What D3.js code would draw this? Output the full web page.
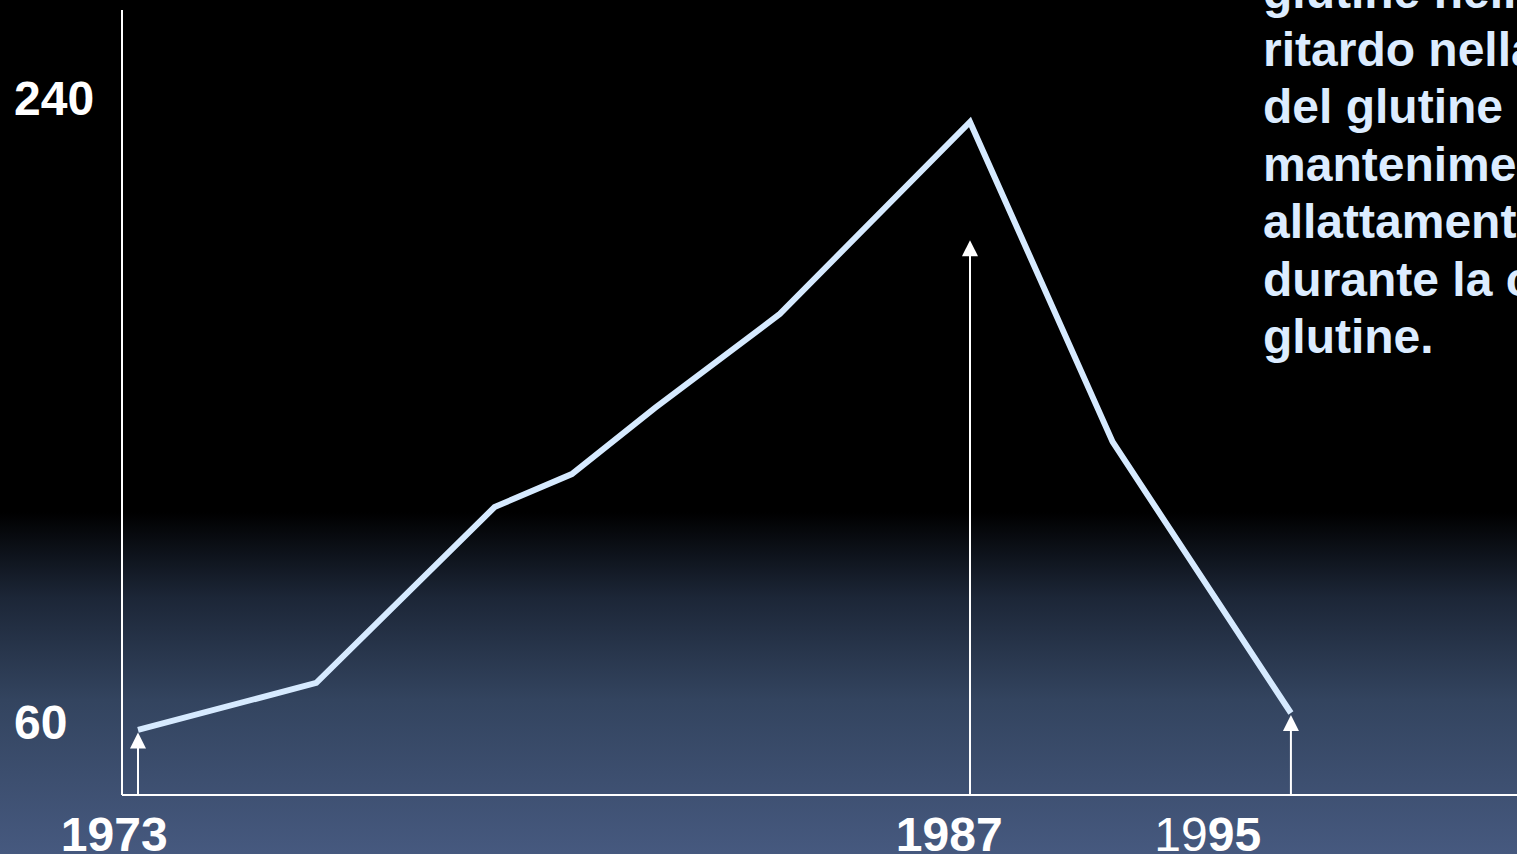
<!DOCTYPE html>
<html>
<head>
<meta charset="utf-8">
<script src="https://cdn.jsdelivr.net/npm/d3@7"></script>
<style>
  html, body { margin: 0; padding: 0; overflow: hidden; background: #000; }
  #graf { width: 1517px; height: 854px; }
  text { font-family: "Liberation Sans", Arial, sans-serif; font-weight: bold; }
</style>
</head>
<body>
<div id="graf"></div>
<script>
// I. Datos
anios   = [1973, 1976, 1979, 1980.3, 1981.7, 1983.8, 1987, 1989.4, 1992.4]
valores = [57.7, 71.3, 122, 131.5, 150.6, 177.7, 233.1, 140.8, 62.6]

flechasAnio = [1973, 1987, 1992.4]
flechasTope = [57, 199, 62]

yTicks = [60, 240]
xEtiquetas = ['1973', '1987', '1995']
xEtiquetasAnio = [1972.6, 1986.65, 1991.0]

textoLineas = ['glutine nella', 'ritardo nella', 'del glutine', 'mantenimento', 'allattamento', 'durante la co', 'glutine.']

// II. Configuración
ancho_total = 1517
alto_total = 854

svg = d3.select('#graf').append('svg')
        .attr('width', ancho_total)
        .attr('height', alto_total)

defs = svg.append('defs')
grad = defs.append('linearGradient')
           .attr('id', 'fondo')
           .attr('x1', 0).attr('y1', 0).attr('x2', 0).attr('y2', 1)
grad.append('stop').attr('offset', '0%').attr('stop-color', '#000000')
grad.append('stop').attr('offset', '60%').attr('stop-color', '#000000')
grad.append('stop').attr('offset', '70%').attr('stop-color', '#1c2637')
grad.append('stop').attr('offset', '82%').attr('stop-color', '#33445f')
grad.append('stop').attr('offset', '100%').attr('stop-color', '#46597f')

svg.append('rect')
   .attr('width', ancho_total)
   .attr('height', alto_total)
   .attr('fill', 'url(#fondo)')

x = d3.scaleLinear()
      .domain([1973, 1987])
      .range([138, 970])

y = d3.scaleLinear()
      .domain([60, 240])
      .range([722, 98])

ejeX = 795
ejeY = 122

// III. Ejes
svg.append('line')
   .attr('x1', ejeY).attr('x2', ejeY)
   .attr('y1', 10).attr('y2', ejeX)
   .attr('stroke', '#fff').attr('stroke-width', 2)

svg.append('line')
   .attr('x1', ejeY).attr('x2', ancho_total)
   .attr('y1', ejeX).attr('y2', ejeX)
   .attr('stroke', '#fff').attr('stroke-width', 2)

svg.selectAll('.ytick')
   .data(yTicks)
   .enter().append('text')
     .attr('class', 'ytick')
     .attr('x', 14)
     .attr('y', d => y(d))
     .attr('dy', '0.35em')
     .attr('fill', '#fff')
     .style('font-size', '48px')
     .text(d => d)

etq = svg.selectAll('.xtick')
   .data(xEtiquetas)
   .enter().append('text')
     .attr('class', 'xtick')
     .attr('x', (d, i) => x(xEtiquetasAnio[i]))
     .attr('y', 851)
     .attr('text-anchor', 'middle')
     .attr('fill', '#fff')
     .style('font-size', '48px')

etq.each(function(d) {
  t = d3.select(this)
  if (d == '1995') {
    t.append('tspan').style('font-weight', 'normal').text('19')
    t.append('tspan').text('95')
  } else {
    t.text(d)
  }
})

// IV. Flechas
flechas = svg.selectAll('.flecha')
   .data(flechasAnio)
   .enter().append('g')
     .attr('class', 'flecha')

flechas.append('line')
   .attr('x1', d => x(d)).attr('x2', d => x(d))
   .attr('y1', ejeX)
   .attr('y2', (d, i) => y(flechasTope[i]) + 12)
   .attr('stroke', '#fff').attr('stroke-width', 2)

flechas.append('path')
   .attr('d', (d, i) => {
     cx = x(d); ty = y(flechasTope[i])
     return `M${cx},${ty} L${cx - 8},${ty + 16} L${cx + 8},${ty + 16} Z`
   })
   .attr('fill', '#fff')

// V. Línea
linea = d3.line()
          .x((d, i) => x(anios[i]))
          .y(d => y(d))

svg.append('path')
   .datum(valores)
   .attr('d', linea)
   .attr('fill', 'none')
   .attr('stroke', '#d6eaff')
   .attr('stroke-width', 6)

// VI. Texto
svg.selectAll('.texto')
   .data(textoLineas)
   .enter().append('text')
     .attr('class', 'texto')
     .attr('x', 1263)
     .attr('y', (d, i) => 8 + i * 57.5)
     .attr('fill', '#dcecff')
     .style('font-size', '48px')
     .text(d => d)
</script>
</body>
</html>
